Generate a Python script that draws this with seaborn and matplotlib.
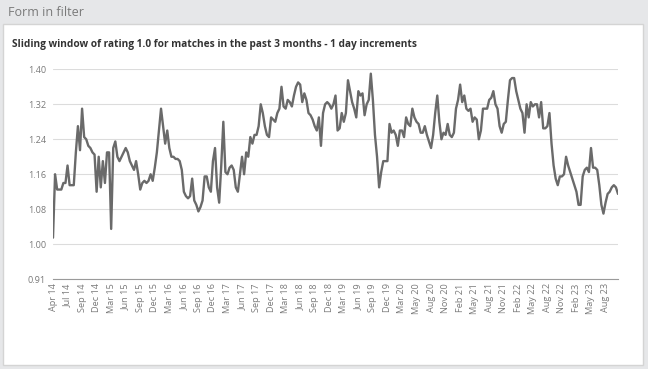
import numpy as np
import pandas as pd
import matplotlib.pyplot as plt
import seaborn as sns

# ----------------------------------------------------------------------
# DATA (7 samples per x tick interval)
# ----------------------------------------------------------------------
tick_labels = [
    "Apr 14", "Jul 14", "Sep 14", "Dec 14", "Mar 15", "Jun 15", "Sep 15", "Dec 15",
    "Mar 16", "Jun 16", "Sep 16", "Dec 16", "Mar 17", "Jun 17", "Sep 17", "Dec 17",
    "Mar 18", "Jun 18", "Sep 18", "Dec 18", "Mar 19", "Jun 19", "Sep 19", "Dec 19",
    "Mar 20", "May 20", "Aug 20", "Nov 20", "Feb 21", "May 21", "Aug 21", "Nov 21",
    "Feb 22", "May 22", "Aug 22", "Nov 22", "Feb 23", "May 23", "Aug 23",
]

rating = [
    1.015, 1.16, 1.125, 1.125, 1.125, 1.14, 1.14,
    1.18, 1.135, 1.135, 1.135, 1.21, 1.27, 1.215,
    1.31, 1.245, 1.24, 1.225, 1.22, 1.21, 1.205,
    1.12, 1.20, 1.13, 1.19, 1.14, 1.21, 1.21,
    1.035, 1.22, 1.235, 1.20, 1.19, 1.20, 1.21,
    1.22, 1.21, 1.19, 1.18, 1.17, 1.19, 1.16,
    1.125, 1.14, 1.145, 1.14, 1.145, 1.16, 1.145,
    1.175, 1.21, 1.26, 1.31, 1.27, 1.23, 1.26,
    1.22, 1.20, 1.20, 1.195, 1.195, 1.19, 1.17,
    1.12, 1.11, 1.105, 1.11, 1.15, 1.10, 1.09,
    1.075, 1.085, 1.10, 1.155, 1.155, 1.13, 1.12,
    1.19, 1.22, 1.13, 1.095, 1.18, 1.28, 1.165,
    1.16, 1.175, 1.18, 1.17, 1.13, 1.12, 1.16,
    1.20, 1.16, 1.21, 1.20, 1.245, 1.23, 1.25,
    1.25, 1.27, 1.32, 1.30, 1.27, 1.25, 1.245,
    1.29, 1.285, 1.28, 1.30, 1.31, 1.36, 1.315,
    1.31, 1.33, 1.325, 1.315, 1.34, 1.36, 1.37,
    1.365, 1.325, 1.345, 1.33, 1.30, 1.295, 1.285,
    1.27, 1.26, 1.29, 1.225, 1.30, 1.32, 1.325,
    1.32, 1.31, 1.32, 1.34, 1.26, 1.265, 1.30,
    1.28, 1.30, 1.375, 1.35, 1.325, 1.31, 1.29,
    1.35, 1.34, 1.345, 1.295, 1.32, 1.33, 1.39,
    1.33, 1.25, 1.20, 1.13, 1.165, 1.19, 1.19,
    1.19, 1.275, 1.255, 1.26, 1.25, 1.225, 1.26,
    1.26, 1.245, 1.29, 1.275, 1.27, 1.31, 1.29,
    1.28, 1.275, 1.255, 1.255, 1.27, 1.25, 1.235,
    1.22, 1.25, 1.30, 1.34, 1.28, 1.24, 1.255,
    1.25, 1.275, 1.25, 1.245, 1.255, 1.31, 1.33,
    1.365, 1.325, 1.34, 1.31, 1.305, 1.31, 1.28,
    1.29, 1.285, 1.24, 1.26, 1.31, 1.31, 1.31,
    1.33, 1.335, 1.35, 1.32, 1.31, 1.27, 1.255,
    1.275, 1.28, 1.33, 1.375, 1.38, 1.38, 1.35,
    1.33, 1.31, 1.30, 1.255, 1.32, 1.29, 1.325,
    1.315, 1.32, 1.32, 1.29, 1.325, 1.265, 1.265,
    1.27, 1.30, 1.23, 1.18, 1.15, 1.135, 1.155,
    1.155, 1.16, 1.20, 1.18, 1.165, 1.15, 1.135,
    1.12, 1.09, 1.09, 1.155, 1.17, 1.175, 1.165,
    1.22, 1.175, 1.175, 1.17, 1.135, 1.09, 1.07,
    1.095, 1.115, 1.12, 1.13, 1.135, 1.13, 1.115,
]

y_ticks = [0.92, 1.00, 1.08, 1.16, 1.24, 1.32, 1.40]
y_tick_labels = ["0.91", "1.00", "1.08", "1.16", "1.24", "1.32", "1.40"]
points_per_tick = 7

df = pd.DataFrame({"day": np.arange(len(rating)), "rating": rating})

# ----------------------------------------------------------------------
# FIGURE
# ----------------------------------------------------------------------
sns.set_theme(style="white")
plt.rcParams["font.family"] = ["Open Sans", "DejaVu Sans"]

W, H = 648, 369
fig = plt.figure(figsize=(W / 100, H / 100), dpi=100)
fig.patch.set_facecolor("#e6e7e9")

# white card behind the chart
card = plt.Rectangle((3 / W, 1 - 365 / H), 640 / W, 341 / H,
                     transform=fig.transFigure, facecolor="white",
                     edgecolor="#d4d4d4", lw=1, zorder=-5)
fig.patches.append(card)
fig.text(8 / W, 1 - 13 / H, "Form in filter", fontsize=9, color="#7a7a7a", va="center")
fig.text(12 / W, 1 - 44 / H,
         "Sliding window of rating 1.0 for matches in the past 3 months - 1 day increments",
         fontsize=7.3, fontweight="bold", color="#333333", va="center")

ax = fig.add_axes([53 / W, 1 - 279.2 / H, 565 / W, (279.2 - 69.3) / H])
ax.set_facecolor("none")
sns.lineplot(data=df, x="day", y="rating", ax=ax, color="#6a6a6a", lw=1.7)

ax.set_xlim(0, len(rating) - 1)
ax.set_ylim(0.92, 1.40)
ax.set_yticks(y_ticks)
ax.set_yticklabels(y_tick_labels)
ax.set_xticks(np.arange(len(tick_labels)) * points_per_tick)
ax.set_xticklabels(tick_labels, rotation=90)
ax.tick_params(axis="both", length=0, labelsize=6.6, labelcolor="#7a7a7a")
ax.tick_params(axis="x", pad=3)
ax.tick_params(axis="y", pad=5)
ax.yaxis.grid(True, color="#dcdcdc", lw=0.8)
ax.xaxis.grid(False)
ax.set_axisbelow(True)
ax.set_xlabel("")
ax.set_ylabel("")
for side in ["top", "right", "left"]:
    ax.spines[side].set_visible(False)
ax.spines["bottom"].set_color("#9a9a9a")
ax.spines["bottom"].set_linewidth(0.8)

fig.savefig("out.png", dpi=100)
